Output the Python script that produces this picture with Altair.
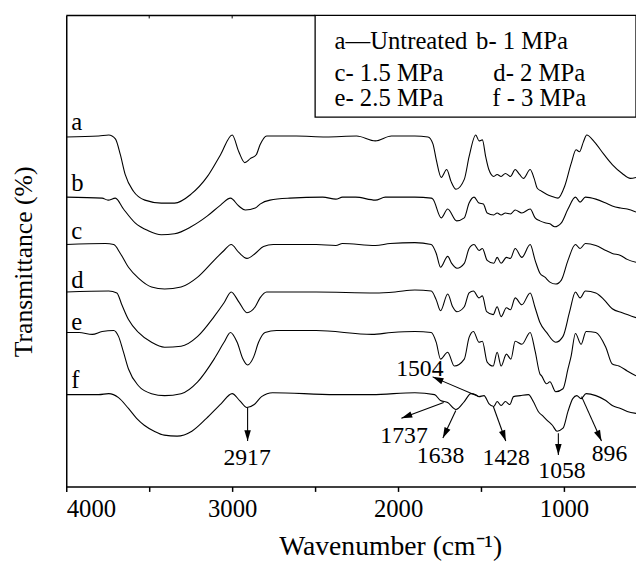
import math
import altair as alt
import pandas as pd

FONT = "Liberation Serif, Times New Roman, serif"

# ---------------- data ----------------
curve_ids = ["a", "b", "c", "d", "e", "f"]

wn_a = [4000, 3804, 3744, 3704, 3674, 3645, 3595, 3526, 3427, 3347, 3248, 3149, 3070, 3000, 2960, 2924,
        2891, 2855, 2832, 2792, 2613, 2435, 2250, 2137, 2040, 1899, 1820, 1790, 1770, 1740, 1707, 1681,
        1651, 1601, 1572, 1532, 1512, 1492, 1472, 1453, 1423, 1403, 1379, 1353, 1323, 1294, 1268, 1244,
        1204, 1180, 1161, 1135, 1105, 1076, 1036, 996, 957, 927, 907, 883, 863, 817, 758, 709, 649, 600, 566]
t_a = [354, 355, 356, 352, 336, 316, 299, 290, 287, 287, 296, 314, 336, 356, 339, 328,
       332, 336, 346, 355, 355, 354, 355, 350, 355, 355, 354, 347, 331, 313, 321, 309,
       301, 311, 334, 356, 350, 351, 334, 321, 314, 316, 314, 317, 314, 321, 316, 312,
       321, 312, 302, 299, 296, 294, 292, 304, 327, 341, 339, 349, 356, 349, 336, 326, 317, 312, 313]

wn_b = [4000, 3784, 3748, 3704, 3655, 3585, 3506, 3427, 3347, 3248, 3149, 3070, 3010, 2960, 2921, 2861,
        2832, 2772, 2653, 2454, 2375, 2335, 2256, 2137, 2077, 1899, 1800, 1790, 1740, 1701, 1647, 1601,
        1572, 1542, 1512, 1486, 1463, 1423, 1403, 1379, 1353, 1323, 1294, 1254, 1204, 1174, 1145, 1115,
        1085, 1056, 1016, 976, 931, 903, 871, 808, 748, 709, 659, 619, 566]
t_b = [293, 292, 290, 292, 281, 267, 259, 255, 256, 263, 274, 285, 292, 284, 280, 282,
       286, 290, 292, 293, 291, 293, 293, 290, 293, 293, 292, 291, 272, 281, 269, 272,
       287, 293, 287, 286, 277, 275, 277, 275, 277, 276, 280, 277, 281, 272, 269, 267,
       266, 263, 267, 281, 293, 288, 293, 291, 287, 284, 282, 281, 278]

wn_c = [4000, 3764, 3714, 3674, 3625, 3565, 3486, 3407, 3308, 3208, 3109, 3049, 3006, 2960, 2911, 2861,
        2811, 2752, 2494, 2375, 2335, 2137, 2048, 1899, 1800, 1770, 1744, 1701, 1677, 1645, 1601, 1572,
        1542, 1512, 1492, 1463, 1423, 1403, 1379, 1347, 1323, 1294, 1254, 1204, 1174, 1145, 1115, 1085,
        1050, 1016, 976, 931, 903, 871, 808, 748, 709, 659, 619, 566]
t_c = [245, 246, 245, 236, 222, 211, 202, 200, 202, 212, 229, 239, 245, 237, 231, 236,
       243, 245, 245, 244, 246, 244, 246, 247, 245, 236, 222, 233, 226, 221, 226, 241,
       245, 239, 241, 229, 226, 232, 226, 232, 231, 241, 232, 245, 229, 216, 212, 207,
       205, 209, 229, 245, 241, 246, 244, 239, 236, 234, 230, 227]

wn_d = [4000, 3744, 3695, 3665, 3625, 3565, 3486, 3407, 3308, 3208, 3109, 3049, 3006, 2960, 2911, 2861,
        2832, 2792, 2494, 2137, 2018, 1899, 1800, 1770, 1744, 1701, 1671, 1645, 1601, 1572, 1546, 1512,
        1492, 1466, 1427, 1403, 1379, 1347, 1323, 1294, 1254, 1204, 1174, 1145, 1105, 1050, 1006, 966,
        931, 903, 871, 808, 758, 709, 649, 566]
t_d = [197, 198, 196, 184, 169, 156, 146, 141, 142, 152, 172, 186, 197, 187, 176, 182,
       191, 197, 197, 196, 197, 199, 198, 189, 178, 195, 182, 177, 182, 196, 198, 191,
       193, 177, 174, 182, 172, 181, 179, 191, 184, 196, 181, 166, 156, 146, 152, 177,
       197, 191, 198, 196, 189, 180, 176, 171]

wn_e = [4000, 3923, 3843, 3784, 3714, 3685, 3655, 3625, 3565, 3486, 3407, 3308, 3208, 3109, 3049, 3010,
        2970, 2935, 2907, 2871, 2841, 2802, 2732, 2494, 2157, 2038, 1899, 1800, 1770, 1744, 1701, 1661,
        1601, 1572, 1546, 1512, 1492, 1463, 1427, 1403, 1379, 1347, 1320, 1294, 1254, 1204, 1174, 1145,
        1135, 1105, 1085, 1050, 1006, 976, 957, 931, 897, 867, 808, 748, 709, 669, 619, 566]
t_e = [156, 156, 154, 157, 158, 152, 136, 119, 102, 94, 92, 94, 106, 129, 146, 156,
       146, 129, 123, 131, 146, 156, 158, 158, 154, 156, 157, 156, 146, 129, 136, 122,
       129, 151, 157, 146, 147, 126, 122, 136, 122, 134, 129, 147, 144, 156, 137, 114,
       112, 104, 106, 96, 99, 119, 132, 155, 144, 157, 156, 141, 124, 122, 117, 112]

wn_f = [4000, 3804, 3744, 3685, 3625, 3576, 3530, 3470, 3410, 3332, 3243, 3155, 3066, 3000, 2955, 2911,
        2867, 2823, 2756, 2379, 2157, 1899, 1780, 1744, 1701, 1651, 1601, 1561, 1532, 1512, 1482, 1453,
        1423, 1403, 1379, 1353, 1327, 1304, 1264, 1214, 1185, 1155, 1125, 1095, 1070, 1042, 1006, 976,
        947, 923, 897, 867, 808, 748, 709, 659, 619, 566]
t_f = [93, 93, 94, 90, 79, 69, 62, 56, 52, 51, 56, 69, 84, 94, 87, 80,
       83, 91, 95, 93, 93, 95, 93, 87, 85, 78, 86, 94, 93, 91, 92, 84,
       81, 86, 82, 86, 83, 91, 92, 93, 86, 76, 71, 66, 62, 56, 59, 76,
       89, 92, 89, 94, 92, 87, 82, 79, 76, 74]

# curve letters
letter_wn = [3970, 3970, 3970, 3970, 3970, 3970]
letter_t = [361, 299, 251, 201, 158, 100]

# legend box texts
leg_labels = ["a\u2014Untreated", "b- 1 MPa", "c- 1.5 MPa", "d- 2 MPa", "e- 2.5 MPa", "f - 3 MPa"]
leg_wn = [2383, 1530, 2383, 1426, 2383, 1432]
leg_t = [443, 443, 411, 411, 385, 385]
leg_box_wn = 2500
leg_box_bottom = 374

# peak annotations
peak_labels = ["2917", "1504", "1737", "1638", "1428", "1058", "896"]
label_wn = [2910, 1869, 1964, 1744, 1348, 1012, 726]
label_t = [29, 119, 51, 31, 29, 16, 33]
arrow_from_wn = [2907, 1515, 1725, 1652, 1426, 1034, 894]
arrow_from_t = [80, 91, 85, 77, 81, 54, 91]
arrow_to_wn = [2907, 1792, 1980, 1730, 1351, 1034, 774]
arrow_to_t = [46, 111, 69, 49, 46, 32, 46]

x_ticks = [4000, 3500, 3000, 2500, 2000, 1500, 1000]
top_ticks = [3500, 3000]

# ---------------- geometry ----------------
X_MIN, X_MAX = 566, 4000
Y_MIN, Y_MAX = 0, 477
W, H = 577, 477
KX = W / (X_MAX - X_MIN)   # px per wavenumber unit
KY = H / (Y_MAX - Y_MIN)

rows = []
for cid, wns, ts in zip(curve_ids, [wn_a, wn_b, wn_c, wn_d, wn_e, wn_f],
                        [t_a, t_b, t_c, t_d, t_e, t_f]):
    for w, t in zip(wns, ts):
        rows.append({"curve": cid, "wn": w, "T": t})
curves = pd.DataFrame(rows)

letters = pd.DataFrame({"lab": curve_ids, "wn": letter_wn, "T": letter_t})
legend_txt = pd.DataFrame({"lab": leg_labels, "wn": leg_wn, "T": leg_t})
legend_box = pd.DataFrame({"wn": [leg_box_wn], "x2": [X_MIN], "T": [leg_box_bottom], "y2": [Y_MAX]})
top_line = pd.DataFrame({"wn": [X_MAX], "x2": [leg_box_wn], "T": [Y_MAX]})
top_tick_df = pd.DataFrame({"wn": top_ticks, "T": [Y_MAX - 3] * len(top_ticks), "y2": [Y_MAX] * len(top_ticks)})

peaks = pd.DataFrame({"lab": peak_labels, "wn": label_wn, "T": label_t})
arrows = pd.DataFrame({"wn": arrow_from_wn, "T": arrow_from_t, "x2": arrow_to_wn, "y2": arrow_to_t})

HEAD = 5.5  # half length of arrow head in px
heads = []
for x1, y1, x2, y2 in zip(arrow_from_wn, arrow_from_t, arrow_to_wn, arrow_to_t):
    dxp = -(x2 - x1) * KX
    dyp = -(y2 - y1) * KY
    L = math.hypot(dxp, dyp)
    ux, uy = dxp / L, dyp / L
    ang = math.degrees(math.atan2(dxp, -dyp)) % 360
    cx = x2 + ux * HEAD / KX
    cy = y2 + uy * HEAD / KY
    heads.append({"wn": cx, "T": cy, "ang": ang})
heads = pd.DataFrame(heads)

xscale = alt.Scale(domain=[X_MIN, X_MAX], reverse=True, nice=False, zero=False)
yscale = alt.Scale(domain=[Y_MIN, Y_MAX], nice=False, zero=False)

xaxis = alt.Axis(values=x_ticks, format="d",
                 labelExpr="datum.value % 1000 === 0 ? datum.label : ''",
                 grid=False, tickSize=5, tickWidth=1.5, tickColor="black",
                 domainColor="black", domainWidth=1.5,
                 labelFont=FONT, labelFontSize=25, labelColor="black", labelPadding=5,
                 title="Wavenumber (cm\u207b\u00b9)", titleFont=FONT, titleFontSize=28,
                 titleFontWeight="normal", titleColor="black",
                 titleX=328, titleY=61, titleBaseline="middle", titleAlign="center")
yaxis = alt.Axis(ticks=False, labels=False, grid=False,
                 domainColor="black", domainWidth=1.5,
                 title="Transmittance (%)", titleFont=FONT, titleFontSize=26,
                 titleFontWeight="normal", titleColor="black",
                 titleX=-43, titleY=249, titleAngle=270, titleBaseline="middle",
                 titleAlign="center")

XE = alt.X("wn:Q", scale=xscale, axis=xaxis)
YE = alt.Y("T:Q", scale=yscale, axis=yaxis)

lines = alt.Chart(curves).mark_line(interpolate="monotone", color="black", strokeWidth=1.1).encode(
    x=XE, y=YE, detail="curve:N")

frame_top = alt.Chart(top_line).mark_rule(color="black", strokeWidth=1.5).encode(
    x=XE, x2="x2", y=YE)
frame_ticks = alt.Chart(top_tick_df).mark_rule(color="black", strokeWidth=1).encode(
    x=XE, y=YE, y2="y2")
box = alt.Chart(legend_box).mark_rect(fillOpacity=0, stroke="black", strokeWidth=1.3).encode(
    x=XE, x2="x2", y=YE, y2="y2")

legend_text = alt.Chart(legend_txt).mark_text(font=FONT, fontSize=25, align="left",
                                             baseline="alphabetic", color="black").encode(
    x=XE, y=YE, text="lab:N")

letter_text = alt.Chart(letters).mark_text(font=FONT, fontSize=25, align="left",
                                          baseline="alphabetic", color="black").encode(
    x=XE, y=YE, text="lab:N")

arrow_lines = alt.Chart(arrows).mark_rule(color="black", strokeWidth=1.1).encode(
    x=XE, y=YE, x2="x2", y2="y2")
arrow_heads = alt.Chart(heads).mark_point(shape="M0,-1L0.6,1L-0.6,1Z", filled=True, color="black",
                                          size=121, opacity=1, strokeWidth=0).encode(
    x=XE, y=YE, angle=alt.Angle("ang:Q", scale=None))
peak_text = alt.Chart(peaks).mark_text(font=FONT, fontSize=24, align="center",
                                       baseline="middle", color="black").encode(
    x=XE, y=YE, text="lab:N")

chart = alt.layer(lines, frame_top, frame_ticks, box, legend_text, letter_text,
                  arrow_lines, arrow_heads, peak_text).properties(
    width=W, height=H,
    autosize=alt.AutoSizeParams(type="none"),
    padding={"left": 59, "top": 4, "right": 0, "bottom": 80},
    background="white",
).configure_view(strokeWidth=0)

chart.save("out.html", embed_options={"renderer": "svg", "actions": False})
